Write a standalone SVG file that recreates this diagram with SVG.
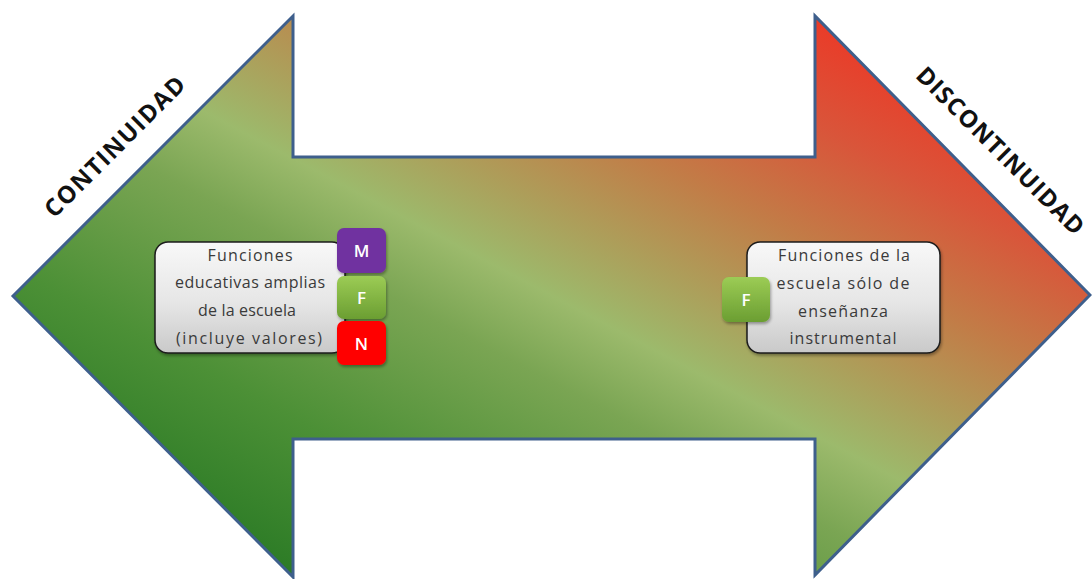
<svg xmlns="http://www.w3.org/2000/svg" width="1092" height="579" viewBox="0 0 1092 579">
  <defs>
    <!-- diagonal green-to-red ramp across the double arrow -->
    <linearGradient id="arrowFill" gradientUnits="userSpaceOnUse" x1="382" y1="636" x2="738" y2="-36">
      <stop offset="0" stop-color="#2a7a25"/>
      <stop offset="0.2" stop-color="#4c9036"/>
      <stop offset="0.4" stop-color="#7aa553"/>
      <stop offset="0.5" stop-color="#9cba6c"/>
      <stop offset="0.6" stop-color="#ad9e5a"/>
      <stop offset="0.72" stop-color="#c27c47"/>
      <stop offset="0.86" stop-color="#d9553a"/>
      <stop offset="1" stop-color="#ec3826"/>
    </linearGradient>
    <linearGradient id="boxFill" x1="0" y1="0" x2="0" y2="1">
      <stop offset="0" stop-color="#f8f8f8"/>
      <stop offset="0.55" stop-color="#e6e6e6"/>
      <stop offset="1" stop-color="#c9c9c9"/>
    </linearGradient>
    <linearGradient id="greenTag" x1="0" y1="0" x2="0" y2="1">
      <stop offset="0" stop-color="#9ccc55"/>
      <stop offset="1" stop-color="#6b9e32"/>
    </linearGradient>
    <filter id="shadow" x="-20%" y="-20%" width="140%" height="150%">
      <feDropShadow dx="1" dy="2" stdDeviation="1.5" flood-color="#000" flood-opacity="0.35"/>
    </filter>
    <style>
      .arrow { fill: url(#arrowFill); stroke: #3e5f8c; stroke-width: 3; stroke-linejoin: miter; }
      .box { fill: url(#boxFill); stroke: #1c1c1c; stroke-width: 1.5; filter: url(#shadow); }
      .label { font-family: "Open Sans", "Liberation Sans", sans-serif; font-size: 16px; fill: #3a3a3a; text-anchor: middle; }
      .tag { stroke: none; filter: url(#shadow); }
      .tagText { font-family: "Open Sans", "Liberation Sans", sans-serif; font-size: 17px; font-weight: 600; fill: #ffffff; text-anchor: middle; }
      .side { font-family: "Open Sans", "Liberation Sans", sans-serif; font-size: 24px; font-weight: 700; fill: #111111; text-anchor: middle; }
    </style>
  </defs>

  <!-- double-headed arrow -->
  <g id="arrow">
    <polygon class="arrow" points="13,296 293,16 293,157 815,157 815,16 1090,295 815,575 815,439 293,439 293,577"/>
  </g>

  <!-- end labels along the arrowhead edges -->
  <g id="continuidad" transform="translate(115,147) rotate(-45)">
    <text class="side" x="0" y="8" textLength="188" lengthAdjust="spacing">CONTINUIDAD</text>
  </g>
  <g id="discontinuidad" transform="translate(1000,151) rotate(45)">
    <text class="side" x="0" y="8" textLength="226" lengthAdjust="spacing">DISCONTINUIDAD</text>
  </g>

  <!-- left box: broad educational functions -->
  <g id="funciones-amplias">
    <rect class="box" x="155" y="242" width="190" height="111" rx="13"/>
    <text class="label" x="250" y="261" textLength="85" lengthAdjust="spacing">Funciones</text>
    <text class="label" x="250" y="288" textLength="150" lengthAdjust="spacing">educativas amplias</text>
    <text class="label" x="247" y="316" textLength="98" lengthAdjust="spacing">de la escuela</text>
    <text class="label" x="249" y="344" textLength="146" lengthAdjust="spacing">(incluye valores)</text>
  </g>

  <g id="tag-m">
    <rect class="tag" x="337" y="228" width="49" height="45" rx="7" fill="#7030a0"/>
    <text class="tagText" x="361.5" y="257">M</text>
  </g>
  <g id="tag-f-left">
    <rect class="tag" x="337" y="276" width="49" height="43" rx="7" fill="url(#greenTag)"/>
    <text class="tagText" x="361.5" y="304">F</text>
  </g>
  <g id="tag-n">
    <rect class="tag" x="337" y="321" width="49" height="44" rx="7" fill="#ff0000"/>
    <text class="tagText" x="361.5" y="350">N</text>
  </g>

  <!-- right box: instrumental teaching only -->
  <g id="funciones-instrumentales">
    <rect class="box" x="747" y="242" width="193" height="111" rx="13"/>
    <text class="label" x="844" y="261" textLength="132" lengthAdjust="spacing">Funciones de la</text>
    <text class="label" x="843" y="289" textLength="133" lengthAdjust="spacing">escuela sólo de</text>
    <text class="label" x="843" y="317" textLength="90" lengthAdjust="spacing">enseñanza</text>
    <text class="label" x="843" y="344" textLength="107" lengthAdjust="spacing">instrumental</text>
  </g>
  <g id="tag-f-right">
    <rect class="tag" x="722" y="277" width="48" height="45" rx="7" fill="url(#greenTag)"/>
    <text class="tagText" x="746" y="306">F</text>
  </g>

  <!-- no connectors in this figure -->
  <g id="connectors"/>
</svg>
